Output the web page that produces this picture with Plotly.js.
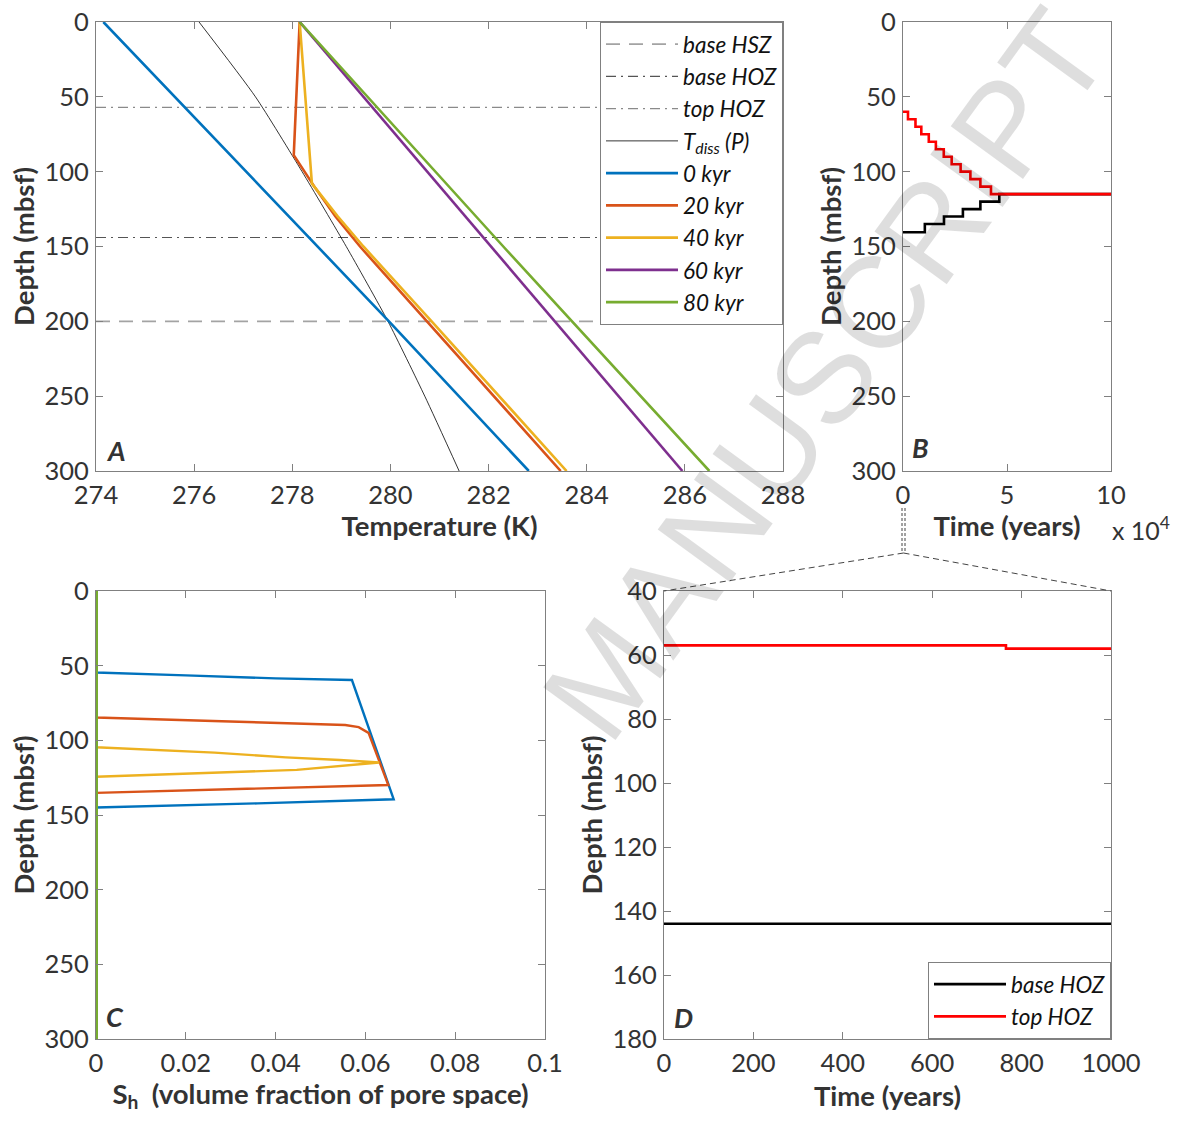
<!DOCTYPE html>
<html>
<head>
<meta charset="utf-8">
<script src="https://cdn.plot.ly/plotly-3.0.1.min.js"></script>
<style>html,body{margin:0;padding:0;background:#fff;}#chart{width:1178px;height:1122px;}</style>
</head>
<body>
<div id="chart"></div>
<script>
// ---------- Panel A: temperature profiles ----------
const tempRange = [274, 288];
const tempTicks = [274, 276, 278, 280, 282, 284, 286, 288];
const depthTicks = [0, 50, 100, 150, 200, 250, 300];
const refNames = ['base HSZ', 'base HOZ', 'top HOZ'];
const refDepths = [200, 144, 57];

const tdissDepth = [0, 50, 100, 150, 200, 250, 300];
const tdissTemp  = [276.1, 277.25, 278.2, 279.1, 279.95, 280.7, 281.4];

const kyr0Depth = [0, 100, 200, 300];
const kyr0Temp  = [274.15, 277.05, 279.97, 282.82];
const kyr20Depth = [0, 89, 110, 130, 150, 200, 250, 300];
const kyr20Temp  = [278.15, 278.03, 278.45, 278.88, 279.38, 280.74, 282.1, 283.47];
const kyr40Depth = [0, 108, 130, 150, 200, 250, 300];
const kyr40Temp  = [278.15, 278.4, 278.93, 279.45, 280.84, 282.22, 283.59];
const kyr60Depth = [0, 150, 300];
const kyr60Temp  = [278.15, 282.05, 285.95];
const kyr80Depth = [0, 150, 300];
const kyr80Temp  = [278.15, 282.3, 286.5];

// ---------- Panel B: HOZ boundaries vs time ----------
const bTopTime   = [0, 2400, 6000, 8800, 12400, 15800, 19600, 23400, 27700, 32400, 37200, 42300, 100000];
const bTopDepth  = [60, 65, 70, 75, 80, 85, 90, 95, 100, 105, 110, 115, 115];
const bBaseTime  = [0, 10500, 19700, 28800, 37200, 46300, 100000];
const bBaseDepth = [140.5, 135, 130, 125, 120, 115, 115];
const bTimeTicks = [0, 50000, 100000];
const bTimeLabels = ['0', '5', '10'];

// ---------- Panel C: hydrate saturation ----------
const shRange = [0, 0.1];
const shTicks = [0, 0.02, 0.04, 0.06, 0.08, 0.1];
const shTickLabels = ['0', '0.02', '0.04', '0.06', '0.08', '0.1'];
const sh0Depth = [0, 54.6, 56.5, 58.5, 59.6, 139.5, 142.2, 145, 300];
const sh0Val   = [0, 0, 0.02, 0.04, 0.057, 0.0663, 0.036, 0, 0];
const sh20Depth = [0, 84.7, 87.2, 89.7, 91.2, 95, 129.9, 132.5, 135.2, 300];
const sh20Val   = [0, 0, 0.028, 0.0555, 0.0585, 0.0607, 0.0651, 0.033, 0, 0];
const sh40Depth = [0, 104.6, 108.2, 111.4, 113.2, 114.8, 119.8, 122.3, 124.4, 300];
const sh40Val   = [0, 0, 0.0264, 0.0423, 0.0543, 0.0631, 0.0447, 0.02, 0, 0];
const sh60Depth = [0, 300];
const sh60Val   = [0, 0];
const sh80Depth = [0, 300];
const sh80Val   = [0, 0];

// ---------- Panel D: first 1000 years ----------
const dBaseTime  = [0, 1000];
const dBaseDepth = [144, 144];
const dTopTime   = [0, 765, 1000];
const dTopDepth  = [57, 58, 58];
const dTimeTicks = [0, 200, 400, 600, 800, 1000];
const dDepthTicks = [40, 60, 80, 100, 120, 140, 160, 180];

const seriesNames = ['0 kyr', '20 kyr', '40 kyr', '60 kyr', '80 kyr'];
const seriesColors = ['#0072BD', '#D95319', '#EDB120', '#7E2F8E', '#77AC30'];

// ---------- helpers ----------
const W = 1178, H = 1122;
const px = v => v / W;
const py = v => 1 - v / H;
const FONT = 'Lato, "Open Sans", sans-serif';
const AXC = '#808080';
const TXT = '#333333';

function axis(domain, range, tickvals, anchor, extra) {
  return Object.assign({
    domain: domain, range: range, tickvals: tickvals, anchor: anchor,
    ticks: 'inside', ticklen: 7, tickwidth: 1, tickcolor: AXC,
    showline: true, linecolor: AXC, linewidth: 1, mirror: 'allticks',
    showgrid: false, zeroline: false, fixedrange: true,
    tickfont: {family: FONT, size: 25.5, color: TXT},
    ticklabelstandoff: 1
  }, extra || {});
}
function atitle(text, standoff) {
  return {text: text, standoff: standoff, font: {family: FONT, size: 27.5, color: TXT, weight: 'bold'}};
}

const traces = [];
// Panel A reference lines
const refStyles = [
  {color: '#a3a3a3', width: 1.6, dash: '14px,9px'},
  {color: '#555555', width: 1.2, dash: '10px,5px,2px,5px'},
  {color: '#8a8a8a', width: 1.3, dash: '10px,5px,2px,5px'}
];
for (let i = 0; i < refNames.length; i++) {
  traces.push({x: tempRange, y: [refDepths[i], refDepths[i]], xaxis: 'x', yaxis: 'y',
    mode: 'lines', name: refNames[i], line: refStyles[i], legend: 'legend'});
}
traces.push({x: tdissTemp, y: tdissDepth, xaxis: 'x', yaxis: 'y', mode: 'lines',
  name: 'T<sub>diss</sub> (P)', line: {color: '#000', width: 0.8, shape: 'spline', smoothing: 0.6}, legend: 'legend'});
const aT = [kyr0Temp, kyr20Temp, kyr40Temp, kyr60Temp, kyr80Temp];
const aD = [kyr0Depth, kyr20Depth, kyr40Depth, kyr60Depth, kyr80Depth];
for (let i = 0; i < 5; i++) {
  traces.push({x: aT[i], y: aD[i], xaxis: 'x', yaxis: 'y', mode: 'lines',
    name: seriesNames[i], line: {color: seriesColors[i], width: 2.6}, legend: 'legend'});
}
// Panel B
traces.push({x: bBaseTime, y: bBaseDepth, xaxis: 'x2', yaxis: 'y2', mode: 'lines', showlegend: false,
  name: 'base HOZ', line: {color: '#000', width: 2.6, shape: 'hv'}});
traces.push({x: bTopTime, y: bTopDepth, xaxis: 'x2', yaxis: 'y2', mode: 'lines', showlegend: false,
  name: 'top HOZ', line: {color: '#ff0000', width: 2.6, shape: 'hv'}});
// Panel C
const cV = [sh0Val, sh20Val, sh40Val, sh60Val, sh80Val];
const cD = [sh0Depth, sh20Depth, sh40Depth, sh60Depth, sh80Depth];
for (let i = 0; i < 5; i++) {
  traces.push({x: cV[i], y: cD[i], xaxis: 'x3', yaxis: 'y3', mode: 'lines', showlegend: false,
    name: seriesNames[i], line: {color: seriesColors[i], width: i === 4 ? 4 : 2.4}});
}
// Panel D
traces.push({x: dBaseTime, y: dBaseDepth, xaxis: 'x4', yaxis: 'y4', mode: 'lines',
  name: 'base HOZ', line: {color: '#000', width: 2.6}, legend: 'legend2'});
traces.push({x: dTopTime, y: dTopDepth, xaxis: 'x4', yaxis: 'y4', mode: 'lines',
  name: 'top HOZ', line: {color: '#ff0000', width: 2.6, shape: 'hv'}, legend: 'legend2'});

const letterFont = {family: FONT, size: 27, color: TXT, weight: 'bold', style: 'italic'};
function letter(t, x, y) {
  return {text: t, x: px(x), y: py(y), xref: 'paper', yref: 'paper', showarrow: false,
    xanchor: 'left', yanchor: 'middle', font: letterFont};
}
const legendFont = {family: FONT, size: 22.5, color: '#111', style: 'italic'};

const dashCol = '#444444';
const layout = {
  width: W, height: H, margin: {l: 0, r: 0, t: 0, b: 0},
  paper_bgcolor: '#fff', plot_bgcolor: '#fff', showlegend: true,
  font: {family: FONT, color: TXT},
  xaxis: axis([px(96), px(783)], tempRange, tempTicks, 'y', {title: atitle('Temperature (K)', 9)}),
  yaxis: axis([py(471), py(22)], [300, 0], depthTicks, 'x', {title: atitle('Depth (mbsf)', 1)}),
  xaxis2: axis([px(903), px(1111)], [0, 100000], bTimeTicks, 'y2', {ticktext: bTimeLabels, title: atitle('Time (years)', 9)}),
  yaxis2: axis([py(471), py(22)], [300, 0], depthTicks, 'x2', {title: atitle('Depth (mbsf)', 1)}),
  xaxis3: axis([px(96), px(545)], shRange, shTicks, 'y3', {ticktext: shTickLabels, title: atitle('S<sub>h</sub>  (volume fraction of pore space)', 8)}),
  yaxis3: axis([py(1039), py(591)], [300, 0], depthTicks, 'x3', {title: atitle('Depth (mbsf)', 1)}),
  xaxis4: axis([px(664), px(1111)], [0, 1000], dTimeTicks, 'y4', {title: atitle('Time (years)', 11)}),
  yaxis4: axis([py(1039), py(591)], [180, 40], dDepthTicks, 'x4', {title: atitle('Depth (mbsf)', 1)}),
  legend: {x: px(783), y: py(22), xanchor: 'right', yanchor: 'top', bgcolor: '#fff',
    bordercolor: AXC, borderwidth: 1, itemwidth: 72, traceorder: 'normal',
    font: legendFont},
  legend2: {x: px(1111), y: py(1039), xanchor: 'right', yanchor: 'bottom', bgcolor: '#fff',
    bordercolor: AXC, borderwidth: 1, itemwidth: 72, traceorder: 'normal',
    font: legendFont},
  annotations: [
    letter('A', 104, 450), letter('B', 910, 447), letter('C', 104, 1016), letter('D', 672, 1017),
    {text: 'x 10<sup>4</sup>', x: px(1110), y: py(528), xref: 'paper', yref: 'paper', showarrow: false,
     xanchor: 'left', yanchor: 'middle', font: {family: FONT, size: 25, color: TXT}},
    {text: 'MANUSCRIPT', x: px(825), y: py(375), xref: 'paper', yref: 'paper', showarrow: false,
     xanchor: 'center', yanchor: 'middle',
     textangle: -54, font: {family: '"Liberation Sans", Arial, sans-serif', size: 130, color: 'rgba(0,0,0,0.13)'}}
  ],
  shapes: [
    {type: 'line', xref: 'paper', yref: 'paper', x0: px(902), x1: px(902), y0: py(508), y1: py(553), line: {color: dashCol, width: 1, dash: '3px,2px'}},
    {type: 'line', xref: 'paper', yref: 'paper', x0: px(905), x1: px(905), y0: py(508), y1: py(553), line: {color: dashCol, width: 1, dash: '3px,2px'}},
    {type: 'line', xref: 'paper', yref: 'paper', x0: px(903.5), x1: px(664), y0: py(553), y1: py(591), line: {color: dashCol, width: 1, dash: '6px,4px'}},
    {type: 'line', xref: 'paper', yref: 'paper', x0: px(903.5), x1: px(1111), y0: py(553), y1: py(591), line: {color: dashCol, width: 1, dash: '6px,4px'}}
  ]
};

Plotly.newPlot('chart', traces, layout, {displayModeBar: false, staticPlot: true});
</script>
</body>
</html>
